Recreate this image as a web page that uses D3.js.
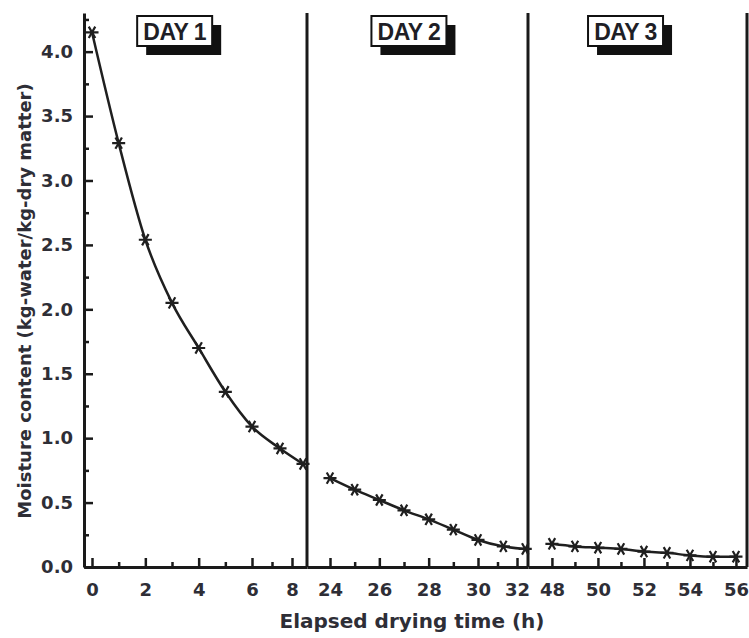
<!DOCTYPE html>
<html lang="en">
  <head>
    <meta charset="utf-8">
    <title>Moisture content vs drying time</title>
    <script src="https://d3js.org/d3.v7.min.js"></script>
    <style>
      body { margin: 0; background: #fff; }
      text { font-family: "DejaVu Sans", sans-serif; font-weight: bold; fill: #2e2e36; }
      .axis path, .axis line { stroke: #1a1a1a; }
      .day text { font-family: "Liberation Sans", Arial, sans-serif; fill: #1e1e26; }
    </style>
  </head>
  <body>
    <div class="chart"></div>
    <script>
      // drying curve, one array per day (hours)
      const day1Hours = [0, 1, 2, 3, 4, 5, 6, 7.4, 8.55];
      const day1Moisture = [4.15, 3.29, 2.54, 2.05, 1.70, 1.36, 1.09, 0.92, 0.80];
      const day2Hours = [24, 25, 26, 27, 28, 29, 30, 31.3, 32.45];
      const day2Moisture = [0.69, 0.60, 0.52, 0.44, 0.37, 0.29, 0.21, 0.16, 0.14];
      const day3Hours = [48, 49, 50, 51, 52, 53, 54, 55, 56];
      const day3Moisture = [0.18, 0.16, 0.15, 0.14, 0.12, 0.11, 0.09, 0.08, 0.08];

      const dayLabels = ['DAY 1', 'DAY 2', 'DAY 3'];
      const dayLabelHour = [3.1, 27.2, 51.2];
      const xTicks = [[0, 2, 4, 6, 8], [24, 26, 28, 30, 32], [48, 50, 52, 54, 56]];
      const xMinorTicks = [[1, 3, 5, 7], [25, 27, 29, 31], [49, 51, 53, 55]];
      const yTicks = [0, 0.5, 1, 1.5, 2, 2.5, 3, 3.5, 4];

      const width = 749, height = 638;
      const plotTop = 13, plotBottom = 567;

      // the printed time axis is squeezed near the end of day 1 and day 2,
      // so those panels use piecewise scales
      const panels = [
        {hours: day1Hours, values: day1Moisture, domain: [-0.3, 0, 6, 8, 8.75], range: [84, 92, 252, 292, 307]},
        {hours: day2Hours, values: day2Moisture, domain: [23.1, 24, 30, 32, 32.6], range: [307, 330, 478, 517, 528]},
        {hours: day3Hours, values: day3Moisture, domain: [46.96, 56.48], range: [528, 747]}
      ];

      const svg = d3.select('.chart').append('svg')
          .attr('width', width)
          .attr('height', height);

      const yScale = d3.scaleLinear().domain([0, 4.3]).range([plotBottom, plotTop]);

      // minor y ticks
      svg.append('g')
          .attr('class', 'axis')
          .attr('transform', 'translate(84,0)')
          .call(d3.axisLeft(yScale).tickValues(d3.range(0.25, 4.3, 0.5)).tickSize(-5).tickFormat(''))
          .call(g => g.select('.domain').remove())
          .selectAll('line').attr('stroke-width', 2.5);

      const yAxis = svg.append('g')
          .attr('class', 'axis')
          .attr('transform', 'translate(84,0)')
          .call(d3.axisLeft(yScale).tickValues(yTicks).tickSize(-9).tickPadding(11).tickSizeOuter(0).tickFormat(d3.format('.1f')));
      yAxis.select('.domain').attr('stroke-width', 3);
      yAxis.selectAll('line').attr('stroke-width', 2.5);
      yAxis.selectAll('text').style('font-size', '18px').style('font-family', '"DejaVu Sans", sans-serif');

      const line = d3.line().curve(d3.curveMonotoneX);
      const marker = d3.symbol().type(d3.symbolAsterisk).size(120);

      panels.forEach((p, i) => {
        const x = d3.scaleLinear().domain(p.domain).range(p.range);

        // minor x ticks (odd hours)
        svg.append('g')
            .attr('class', 'axis')
            .attr('transform', `translate(0,${plotBottom})`)
            .call(d3.axisBottom(x).tickValues(xMinorTicks[i]).tickSize(-5).tickFormat(''))
            .call(g => g.select('.domain').remove())
            .selectAll('line').attr('stroke-width', 2.5);

        const xAxis = svg.append('g')
            .attr('class', 'axis')
            .attr('transform', `translate(0,${plotBottom})`)
            .call(d3.axisBottom(x).tickValues(xTicks[i]).tickSize(-9).tickPadding(16).tickSizeOuter(0));
        xAxis.select('.domain').attr('stroke-width', 3);
        xAxis.selectAll('line').attr('stroke-width', 2.5);
        xAxis.selectAll('text').style('font-size', '18px').style('font-family', '"DejaVu Sans", sans-serif');

        // panel divider on the right
        svg.append('line')
            .attr('x1', p.range[p.range.length - 1]).attr('x2', p.range[p.range.length - 1])
            .attr('y1', plotTop).attr('y2', plotBottom)
            .attr('stroke', '#1a1a1a')
            .attr('stroke-width', 3);

        const pts = p.hours.map((h, j) => [x(h), yScale(p.values[j])]);

        svg.append('path')
            .attr('d', line(pts))
            .attr('fill', 'none')
            .attr('stroke', '#1f1f1f')
            .attr('stroke-width', 2.5);

        svg.selectAll(null)
            .data(pts)
            .enter()
            .append('path')
            .attr('d', marker)
            .attr('transform', d => `translate(${d[0]},${d[1]}) rotate(90)`)
            .attr('fill', 'none')
            .attr('stroke', '#1f1f1f')
            .attr('stroke-width', 2.2);

        // DAY label box with drop shadow
        const cx = x(dayLabelHour[i]);
        const bw = 75, bh = 30, by = 16;
        const g = svg.append('g').attr('class', 'day');
        g.append('rect')
            .attr('x', cx - bw / 2 + 9).attr('y', by + 9)
            .attr('width', bw).attr('height', bh)
            .attr('fill', '#111');
        g.append('rect')
            .attr('x', cx - bw / 2).attr('y', by)
            .attr('width', bw).attr('height', bh)
            .attr('fill', '#fff')
            .attr('stroke', '#111')
            .attr('stroke-width', 2);
        g.append('text')
            .attr('x', cx).attr('y', by + bh / 2 + 8.5)
            .attr('text-anchor', 'middle')
            .style('font-size', '23px')
            .style('letter-spacing', '-0.5px')
            .text(dayLabels[i]);
      });

      svg.append('text')
          .attr('x', 412)
          .attr('y', 628)
          .attr('text-anchor', 'middle')
          .style('font-size', '20px')
          .text('Elapsed drying time (h)');

      svg.append('text')
          .attr('transform', 'translate(31,301) rotate(-90)')
          .attr('text-anchor', 'middle')
          .style('font-size', '18px')
          .text('Moisture content (kg-water/kg-dry matter)');
    </script>
  </body>
</html>
